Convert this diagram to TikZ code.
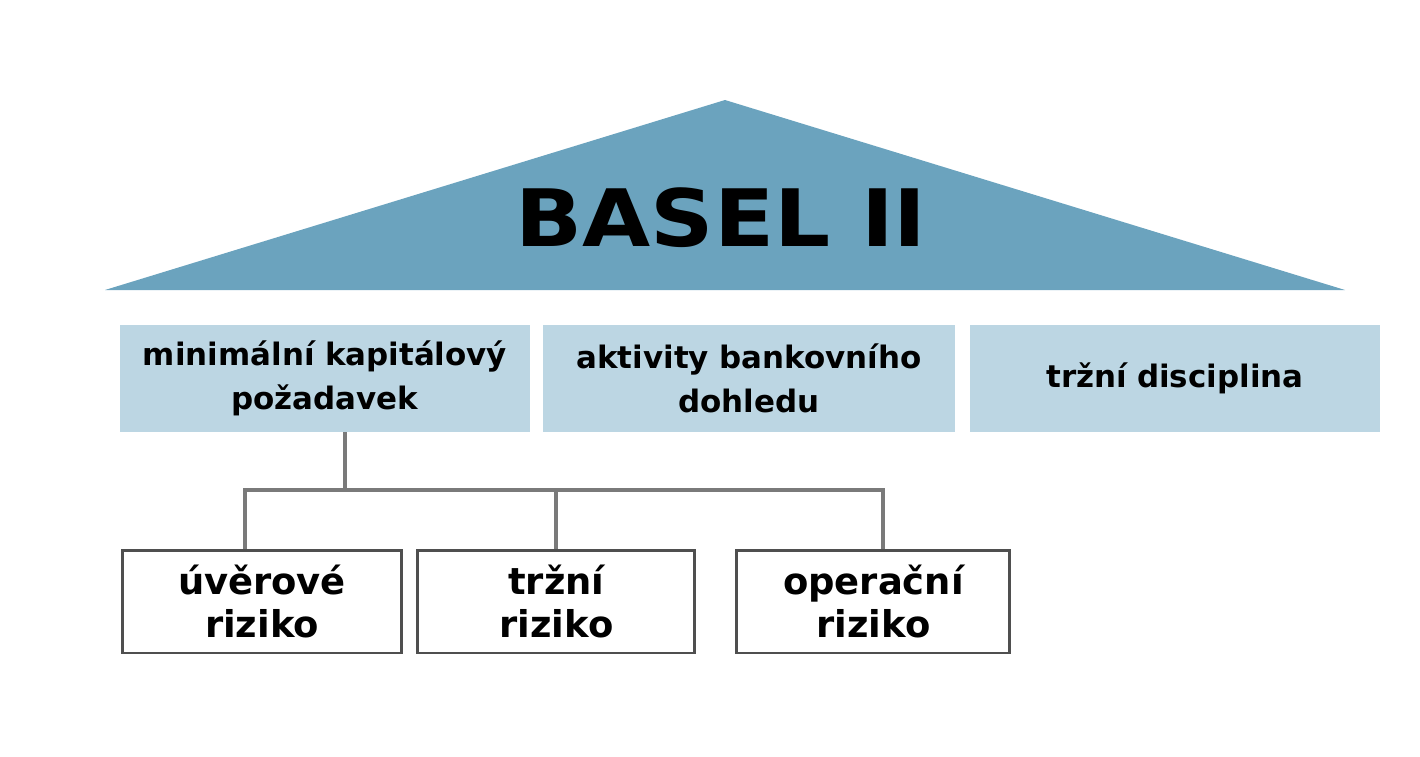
\documentclass[tikz,border=0pt]{standalone}
\usepackage{fontspec}
\setmainfont{DejaVu Sans}
\usepackage{tikz}
\usepackage{xcolor}

\definecolor{roofblue}{HTML}{6BA3BE}
\definecolor{pillarblue}{HTML}{BCD6E3}
\definecolor{boxgray}{HTML}{4F4F4F}
\definecolor{linkgray}{HTML}{7A7A7A}

\begin{document}
\begin{tikzpicture}[x=0.02cm, y=-0.02cm, auto]
    % Styles
    \tikzstyle{pillar} = [rectangle, fill=pillarblue, text width=7.8cm, align=center, minimum width=8.2cm, minimum height=2.14cm, font=\bfseries\fontsize{17.6}{25}\selectfont]
    \tikzstyle{risk} = [rectangle, draw=boxgray, line width=1.7pt, fill=white, align=center, minimum height=2.06cm, font=\bfseries\fontsize{21}{24}\selectfont]
    \tikzstyle{link} = [draw=linkgray, line width=2.3pt]

    \useasboundingbox (0,0) rectangle (1420,757);

    % Roof
    \fill [roofblue] (105,290) -- (725,100) -- (1345,290) -- cycle;
    \node (title) at (721,218) {\bfseries\fontsize{46}{50}\selectfont\scalebox{1.09}[0.98]{BASEL II}};

    % Pillars
    \node [pillar] (capital) at (325,378.5) {minimální kapitálový\\požadavek};
    \node [pillar, right of=capital, node distance=8.48cm, minimum width=8.24cm] (supervision) {aktivity bankovního\\dohledu};
    \node [pillar, right of=supervision, node distance=8.52cm] (discipline) {tržní disciplina};

    % Risks
    \node [risk, minimum width=5.6cm] (credit) at (262,601.5) {úvěrové\\riziko};
    \node [risk, right of=credit, node distance=5.89cm, minimum width=5.54cm] (market) {tržní\\riziko};
    \node [risk, right of=market, node distance=6.34cm, minimum width=5.46cm] (operational) {operační\\riziko};

    % Arrows
    \coordinate (split) at (345,490);
    \coordinate (left) at (245,490);
    \coordinate (right) at (883,490);
    \draw [link] (capital.south -| split) -- (split);
    \draw [link] (credit.north -| left) -- (left) -- (right) -- (operational.north -| right);
    \draw [link] (market.north |- split) -- (market.north);
\end{tikzpicture}
\end{document}
